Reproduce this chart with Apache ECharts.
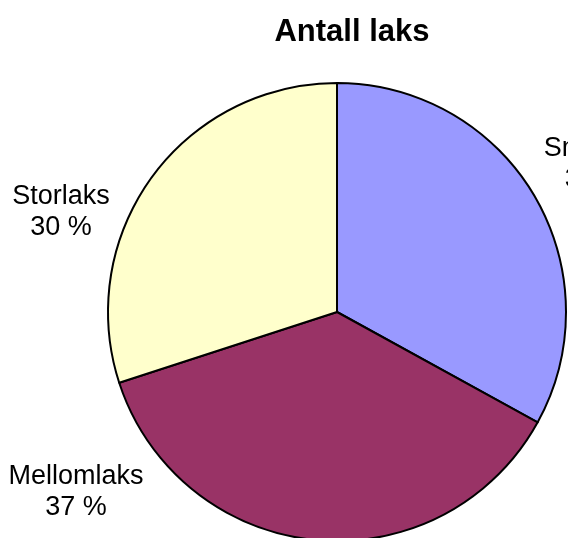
<!DOCTYPE html>
<html>
<head>
<meta charset="utf-8">
<script src="https://cdn.jsdelivr.net/npm/echarts@6/dist/echarts.min.js"></script>
<style>
html,body{margin:0;padding:0;background:#fff;}
#chart{width:568px;height:538px;}
</style>
</head>
<body>
<div id="chart"></div>
<script>
var categories = ['Smålaks', 'Mellomlaks', 'Storlaks'];
var values = [33, 37, 30];
var colors = ['#9999FF', '#993366', '#FFFFCC'];
var labelPos = [[595.5, 164], [76, 492], [61, 212]];

var chart = echarts.init(document.getElementById('chart'), null, {renderer: 'canvas'});
chart.setOption({
  animation: false,
  backgroundColor: '#ffffff',
  title: {
    text: 'Antall laks',
    left: 347,
    top: 12,
    textAlign: 'center',
    textStyle: {fontFamily: 'Liberation Sans, Arial, sans-serif', fontSize: 31, fontWeight: 'bold', color: '#000'}
  },
  series: [{
    type: 'pie',
    center: [337, 312],
    radius: 229,
    startAngle: 90,
    clockwise: true,
    avoidLabelOverlap: false,
    data: categories.map(function (c, i) {
      return {name: c, value: values[i], itemStyle: {color: colors[i]}};
    }),
    itemStyle: {borderColor: '#000', borderWidth: 2},
    label: {
      show: true,
      position: 'outside',
      formatter: function (p) { return p.name + '\n' + p.value + ' %'; },
      fontFamily: 'Liberation Sans, Arial, sans-serif',
      fontSize: 27,
      lineHeight: 31,
      color: '#000',
      align: 'center',
      overflow: 'none',
      width: 300
    },
    labelLine: {show: false},
    labelLayout: function (params) {
      var p = labelPos[params.dataIndex];
      return {x: p[0], y: p[1], align: 'center', verticalAlign: 'middle', hideOverlap: false};
    },
    emphasis: {disabled: true}
  }]
});
</script>
</body>
</html>
